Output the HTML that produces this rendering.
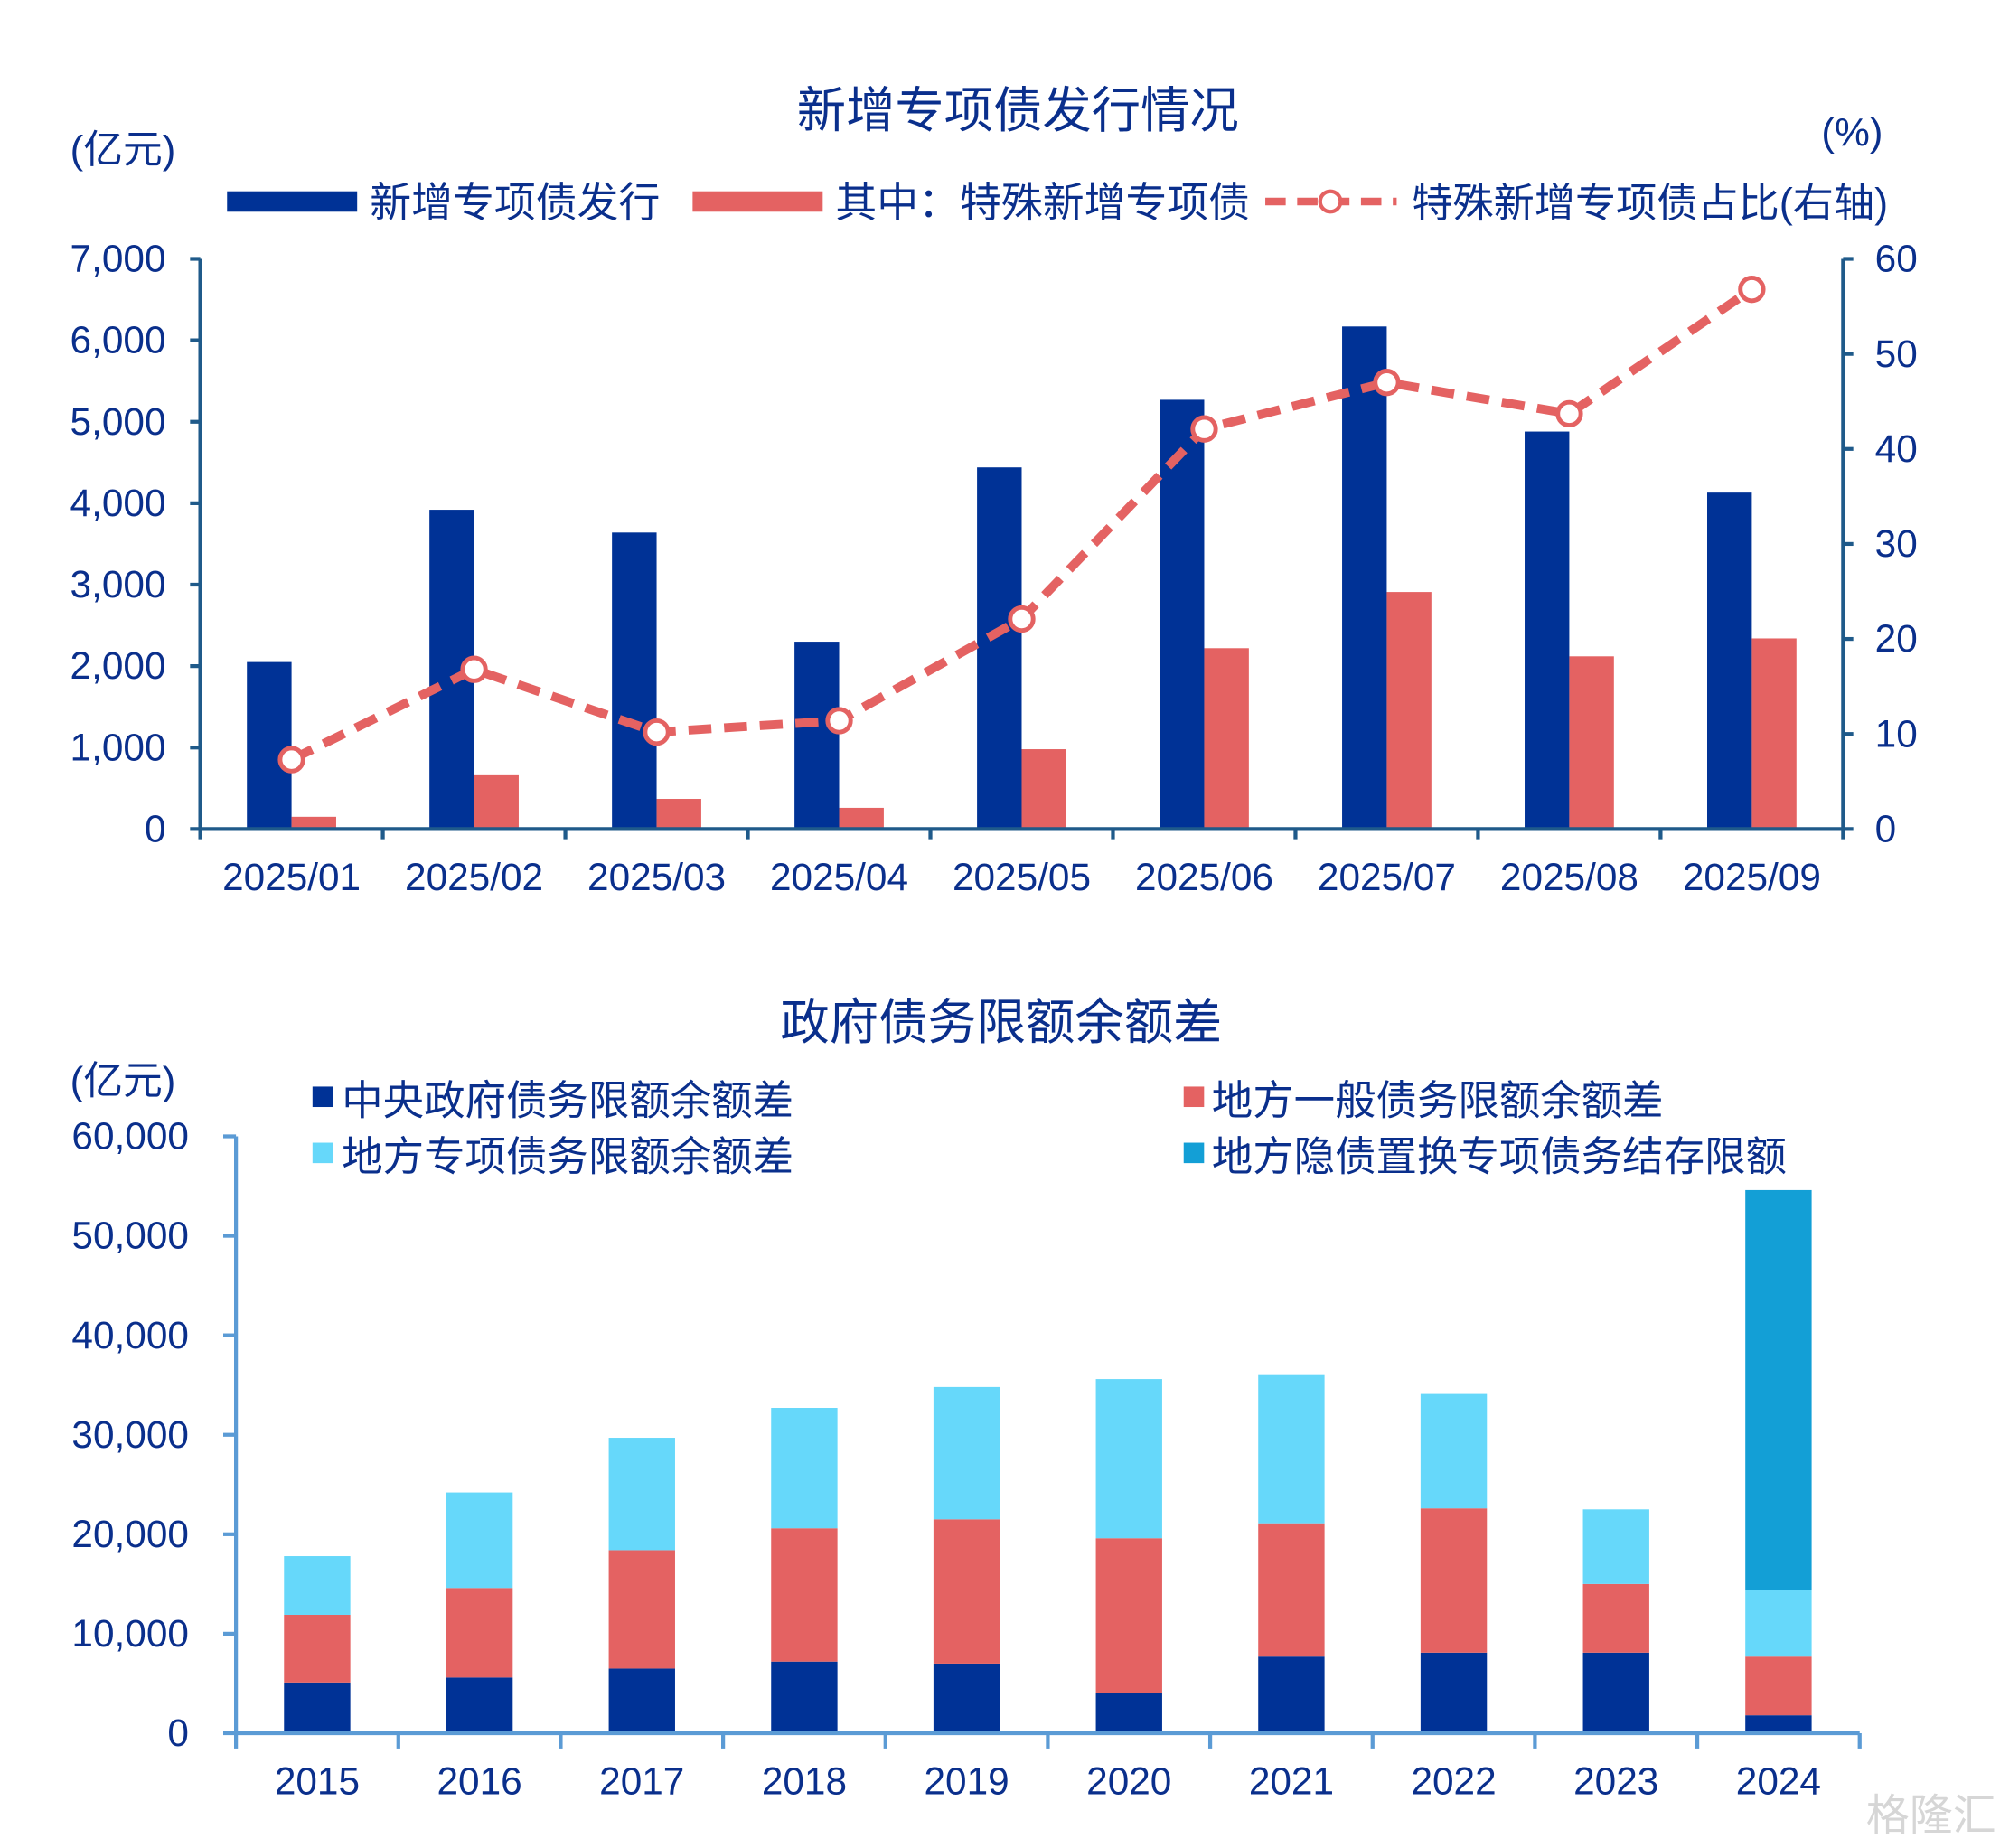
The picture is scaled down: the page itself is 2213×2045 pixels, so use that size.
<!DOCTYPE html>
<html><head><meta charset="utf-8">
<style>
html,body{margin:0;padding:0;background:#fff;}
svg{display:block;}
text{font-family:"Liberation Sans","Noto Sans CJK SC",sans-serif;fill:#0a2f8c;}
</style></head>
<body>
<svg id="c" width="2213" height="2045" viewBox="0 0 1568 1449" xmlns="http://www.w3.org/2000/svg">
<text x="798" y="100" font-size="38.5" text-anchor="middle">新增专项债发行情况</text>
<text x="55" y="128" font-size="31">(亿元)</text>
<text x="1428" y="114" font-size="31">(%)</text>
<g>
<rect x="178" y="150" width="102" height="16" fill="#003296"/>
<text x="290" y="170" font-size="32.5">新增专项债发行</text>
<rect x="543" y="150" width="102" height="16" fill="#e46262"/>
<text x="655" y="170" font-size="32.5">其中：特殊新增专项债</text>
<line x1="992" y1="158" x2="1095" y2="158" stroke="#e46262" stroke-width="6" stroke-dasharray="16,9"/>
<circle cx="1043" cy="158" r="8" fill="#fff" stroke="#e46262" stroke-width="3"/>
<text x="1107" y="170" font-size="32">特殊新增专项债占比(右轴)</text>
</g>
<g id="topG"></g>
<text x="785" y="815" font-size="38.5" text-anchor="middle">政府债务限额余额差</text>
<text x="55" y="858" font-size="31">(亿元)</text>
<g>
<rect x="245" y="852" width="16" height="16" fill="#003296"/>
<text x="268" y="874" font-size="32.2">中央政府债务限额余额差</text>
<rect x="928" y="852" width="16" height="16" fill="#e46262"/>
<text x="950" y="874" font-size="32.2">地方一般债务限额余额差</text>
<rect x="245" y="896" width="16" height="16" fill="#66d8fa"/>
<text x="268" y="918" font-size="32.2">地方专项债务限额余额差</text>
<rect x="928" y="896" width="16" height="16" fill="#139fd6"/>
<text x="950" y="918" font-size="32.2">地方隐债置换专项债务结存限额</text>
</g>
<g id="botG"></g>
<g opacity="0.6">
<text x="1463" y="1435" font-size="34" style="fill:#bbb">格隆汇</text>
</g>
</svg>
<script>
const months=["2025/01","2025/02","2025/03","2025/04","2025/05","2025/06","2025/07","2025/08","2025/09"];
const issuance=[2050,3920,3640,2300,4440,5270,6170,4880,4130];
const specialIssuance=[150,660,370,260,980,2220,2910,2120,2340];
const specialRatio=[7.3,16.8,10.2,11.4,22.1,42.1,47.0,43.7,56.8];
const leftTicks=["0","1,000","2,000","3,000","4,000","5,000","6,000","7,000"];
const rightTicks=["0","10","20","30","40","50","60"];

const years=["2015","2016","2017","2018","2019","2020","2021","2022","2023","2024"];
const central=[5100,5600,6500,7200,7000,4000,7700,8100,8100,1800];
const localGeneral=[6800,9000,11900,13400,14500,15600,13400,14500,6900,5900];
const localSpecial=[5900,9600,11300,12100,13300,16000,14900,11500,7500,6700];
const hiddenDebt=[0,0,0,0,0,0,0,0,0,40200];
const bottomTicks=["0","10,000","20,000","30,000","40,000","50,000","60,000"];

(function(){
const NS="http://www.w3.org/2000/svg";
function mk(parent,tag,attrs,txt){const e=document.createElementNS(NS,tag);for(const k in attrs)e.setAttribute(k,attrs[k]);if(txt!==undefined)e.textContent=txt;parent.appendChild(e);return e;}

const tg=document.getElementById('topG');
const tx0=157,tx1=1445,ty0=650,ty1=203;
const yL=v=>ty0-(v/7000)*(ty0-ty1);
const yR=v=>ty0-(v/60)*(ty0-ty1);
const bw=(tx1-tx0)/months.length;
const xC=i=>tx0+bw*(i+0.5);
months.forEach((m,i)=>{
  let r=mk(tg,'rect',{x:xC(i)-35,y:yL(issuance[i]),width:35,height:ty0-yL(issuance[i]),fill:'#003296'});
  
  
  r=mk(tg,'rect',{x:xC(i),y:yL(specialIssuance[i]),width:35,height:ty0-yL(specialIssuance[i]),fill:'#e46262'});
  
  
  const t=mk(tg,'text',{x:xC(i),y:698,'font-size':30,'text-anchor':'middle'},m);
  
  
});
let ax=mk(tg,'path',{d:`M${tx0} ${ty1}V${ty0}H${tx1}V${ty1}`,fill:'none',stroke:'#1f5a8a','stroke-width':3});


for(let i=0;i<=months.length;i++){const x=tx0+bw*i;const l=mk(tg,'line',{x1:x,y1:ty0,x2:x,y2:ty0+8,stroke:'#1f5a8a','stroke-width':3});
  
  }
leftTicks.forEach((t,i)=>{const y=yL(i*1000);
  const l=mk(tg,'line',{x1:tx0-8,y1:y,x2:tx0,y2:y,stroke:'#1f5a8a','stroke-width':3});
  
  
  const e=mk(tg,'text',{x:130,y:y+10,'font-size':30,'text-anchor':'end'},t);
  
  });
rightTicks.forEach((t,i)=>{const y=yR(i*10);
  const l=mk(tg,'line',{x1:tx1,y1:y,x2:tx1+8,y2:y,stroke:'#1f5a8a','stroke-width':3});
  
  
  const e=mk(tg,'text',{x:1470,y:y+10,'font-size':30},t);
  
  });
const pts=specialRatio.map((v,i)=>xC(i)+','+yR(v)).join(' ');
const pl=mk(tg,'polyline',{points:pts,fill:'none',stroke:'#e46262','stroke-width':7,'stroke-dasharray':'18,10'});


specialRatio.forEach((v,i)=>{const c=mk(tg,'circle',{cx:xC(i),cy:yR(v),r:9,fill:'#fff',stroke:'#e46262','stroke-width':3.5});
  
  });

const bg=document.getElementById('botG');
const bx0=185,bx1=1458,by0=1359,by1=891;
const yB=v=>by0-(v/60000)*(by0-by1);
const bbw=(bx1-bx0)/years.length;
const xB=i=>bx0+bbw*(i+0.5);
const series=[[central,'#003296','central'],[localGeneral,'#e46262','local-general'],[localSpecial,'#66d8fa','local-special'],[hiddenDebt,'#139fd6','hidden-debt']];
years.forEach((yr,i)=>{
  let acc=0;
  series.forEach(([arr,col,nm])=>{
    const v=arr[i]; if(v<=0) return;
    const r=mk(bg,'rect',{x:xB(i)-26,y:yB(acc+v),width:52,height:yB(acc)-yB(acc+v),fill:col});
    
    
    acc+=v;
  });
  const t=mk(bg,'text',{x:xB(i),y:1407,'font-size':30,'text-anchor':'middle'},yr);
  
  
});
ax=mk(bg,'path',{d:`M${bx0} ${by1}V${by0}H${bx1}`,fill:'none',stroke:'#5b9bd5','stroke-width':3});


for(let i=0;i<=years.length;i++){const x=bx0+bbw*i;const l=mk(bg,'line',{x1:x,y1:by0,x2:x,y2:by0+12,stroke:'#5b9bd5','stroke-width':3});
  
  }
bottomTicks.forEach((t,i)=>{const y=yB(i*10000);
  const l=mk(bg,'line',{x1:bx0-10,y1:y,x2:bx0,y2:y,stroke:'#5b9bd5','stroke-width':3});
  
  
  const e=mk(bg,'text',{x:148,y:y+10,'font-size':30,'text-anchor':'end'},t);
  
  });
})();
</script>
</body></html>
